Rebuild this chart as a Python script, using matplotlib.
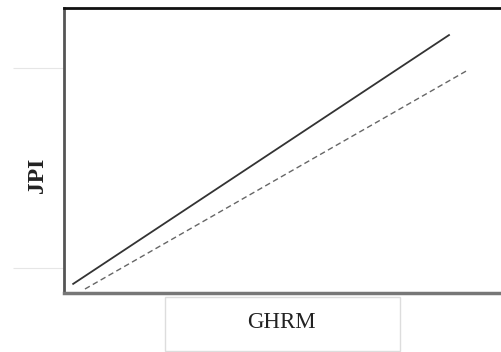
import matplotlib.pyplot as plt
from matplotlib.patches import Rectangle

# line end points (data units, axes run 0..10 both ways)
solid_x = [0.21, 8.81]
solid_y = [0.32, 9.05]
dash_x = [0.48, 9.24]
dash_y = [0.14, 7.82]
tick_y = [0.88, 7.89]

W, H = 501, 352
fig = plt.figure(figsize=(W / 100, H / 100), dpi=100)
ax = fig.add_axes([64 / W, 1 - 293 / H, (W - 64) / W, (293 - 8) / H])

ax.plot(solid_x, solid_y, color="#333333", lw=1.3)
ax.plot(dash_x, dash_y, color="#666666", lw=1.0, ls=(0, (4, 2.5)))
ax.set_xlim(0, 10)
ax.set_ylim(0, 10)

ax.spines["right"].set_visible(False)
ax.spines["top"].set_color("#111111")
ax.spines["top"].set_linewidth(2)
ax.spines["left"].set_color("#555555")
ax.spines["left"].set_linewidth(2)
ax.spines["bottom"].set_color("#777777")
ax.spines["bottom"].set_linewidth(2.5)

ax.set_xticks([])
ax.set_yticks(tick_y)
ax.set_yticklabels([])
ax.tick_params(axis="y", length=37, width=0.8, color="#e6e6e6", pad=0)

serif = ["Liberation Serif", "DejaVu Serif"]
fig.text(38 / W, 1 - 175 / H, "JPI", rotation=90, ha="center", va="center",
         fontsize=17, fontweight="bold", family=serif, color="#222222")

box = Rectangle((165 / W, 1 - 351 / H), 235 / W, 54 / H, transform=fig.transFigure,
                facecolor="white", edgecolor="#dddddd", lw=1)
fig.patches.append(box)
fig.text(281 / W, 1 - 323 / H, "GHRM", ha="center", va="center",
         fontsize=16.5, family=serif, color="#222222")

fig.savefig("out.png", dpi=100)
